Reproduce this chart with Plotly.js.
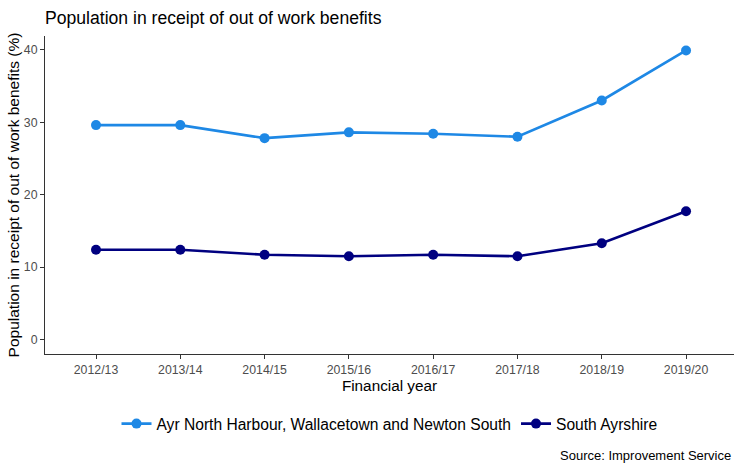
<!DOCTYPE html>
<html>
<head>
<meta charset="utf-8">
<script src="https://cdn.plot.ly/plotly-3.0.1.min.js"></script>
<style>html,body{margin:0;padding:0;background:#fff;}#chart{width:734px;height:464px;}</style>
</head>
<body>
<div id="chart"></div>
<script>
const years = ["2012/13","2013/14","2014/15","2015/16","2016/17","2017/18","2018/19","2019/20"];
const ayrNorth = [29.6, 29.6, 27.8, 28.6, 28.4, 28.0, 33.0, 39.9];
const southAyrshire = [12.4, 12.4, 11.7, 11.5, 11.7, 11.5, 13.3, 17.7];
const seriesNames = ["Ayr North Harbour, Wallacetown and Newton South", "South Ayrshire"];
const yTicks = [0, 10, 20, 30, 40];

const font = "Liberation Sans, Arial, sans-serif";
const traces = [
  {x: years, y: ayrNorth, name: seriesNames[0], type: "scatter", mode: "lines+markers",
   line: {color: "#1E88E5", width: 2.6}, marker: {color: "#1E88E5", size: 10}},
  {x: years, y: southAyrshire, name: seriesNames[1], type: "scatter", mode: "lines+markers",
   line: {color: "#000080", width: 2.6}, marker: {color: "#000080", size: 10}}
];
const layout = {
  width: 734, height: 464,
  margin: {l: 45, r: 0, t: 36, b: 110},
  paper_bgcolor: "#fff", plot_bgcolor: "#fff",
  font: {family: font, color: "#000"},
  title: {text: "Population in receipt of out of work benefits", x: 45/734, xanchor: "left", y: 0.962, yanchor: "middle",
          font: {family: font, size: 17.6, color: "#000"}},
  xaxis: {type: "category", range: [-0.605, 7.569], showgrid: false, zeroline: false,
          showline: true, linecolor: "#333", linewidth: 1.1, ticks: "outside", ticklen: 4, tickcolor: "#333",
          tickfont: {family: font, size: 12.3, color: "#4D4D4D"},
          title: {text: "Financial year", standoff: 3, font: {family: font, size: 15.3, color: "#000"}}},
  yaxis: {range: [-2.0, 41.9], tickvals: yTicks, showgrid: false, zeroline: false,
          showline: true, linecolor: "#333", linewidth: 1.1, ticks: "outside", ticklen: 4, tickcolor: "#333",
          tickfont: {family: font, size: 12.3, color: "#4D4D4D"},
          title: {text: "Population in receipt of out of work benefits (%)", standoff: 0, font: {family: font, size: 15.5, color: "#000"}}},
  showlegend: true,
  legend: {orientation: "h", x: 0.5, xanchor: "center", y: -0.22, yanchor: "middle",
           font: {family: font, size: 15.6, color: "#000"}, itemwidth: 30, tracegroupgap: 0},
  annotations: [{text: "Source: Improvement Service", xref: "paper", yref: "paper", x: 1, xanchor: "right", xshift: -1,
                 y: -0.318, yanchor: "middle", showarrow: false, font: {family: font, size: 13, color: "#000"}}]
};
Plotly.newPlot("chart", traces, layout, {displayModeBar: false});
</script>
</body>
</html>
